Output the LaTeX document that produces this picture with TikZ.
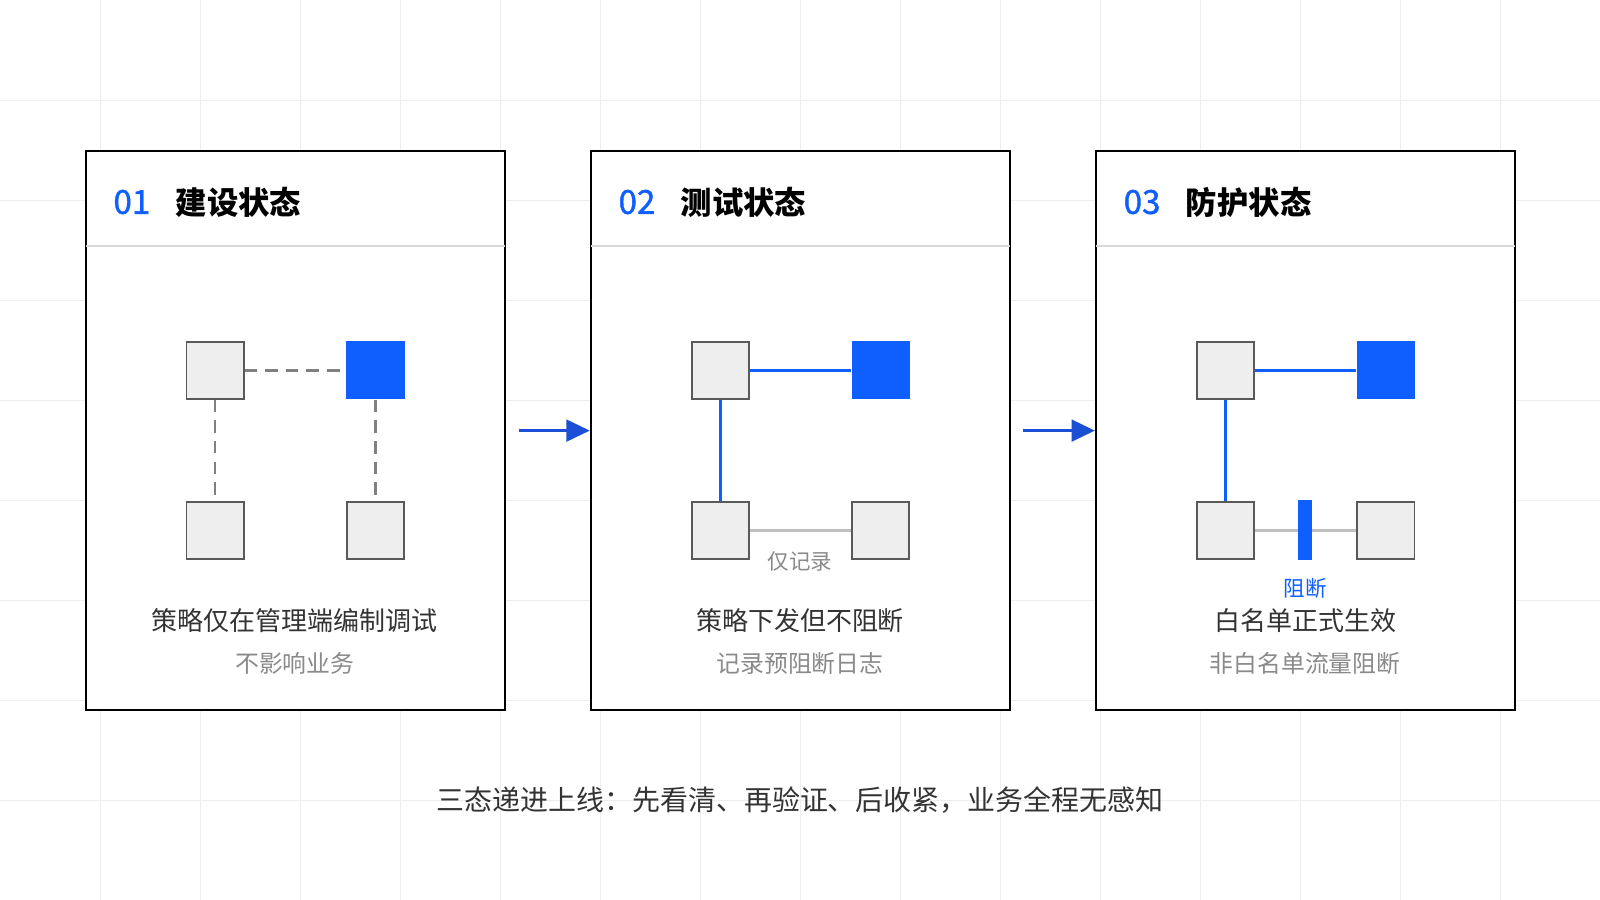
\documentclass[tikz,border=0pt]{standalone}
\usepackage{fontspec}
\setmainfont{Noto Sans CJK SC}
\newfontfamily\numfont{Noto Sans CJK SC}[FakeBold=1.2]
\usetikzlibrary{arrows.meta}
\definecolor{blueA}{HTML}{0F5EFF}
\definecolor{blueB}{HTML}{1A4FD6}
\definecolor{gridc}{HTML}{EDEDED}
\definecolor{boxg}{HTML}{EEEEEE}
\definecolor{txtA}{HTML}{333333}
\definecolor{txtB}{HTML}{8A8A8A}
\tikzstyle{panel} = [draw=black, line width=1.1pt, fill=white]
\tikzstyle{sq} = [draw=black!65, fill=boxg, line width=0.8pt, minimum size=1.12cm, inner sep=0pt]
\tikzstyle{sqb} = [fill=blueA, minimum size=1.14cm, inner sep=0pt]
\tikzstyle{num} = [text=blueA, font=\numfont\fontsize{18.5}{18}\selectfont, anchor=west]
\tikzstyle{ttl} = [text=black, font=\fontsize{17.5}{17}\selectfont\bfseries, anchor=west]
\tikzstyle{main} = [text=txtA, font=\fontsize{14.5}{15}\selectfont]
\tikzstyle{sub} = [text=txtB, font=\fontsize{13.3}{14}\selectfont]
\tikzstyle{draft} = [draw=black!50, line width=1.3pt, dash pattern=on 7pt off 4.5pt]
\tikzstyle{link} = [draw=blueA, line width=1.6pt]
\tikzstyle{weak} = [draw=black!25, line width=2pt]
\tikzstyle{stage} = [draw=blueB, line width=1.8pt, -{Triangle[length=13pt,width=12pt]}]
\begin{document}
\begin{tikzpicture}[x=0.02cm, y=-0.02cm]
\useasboundingbox (0,0) rectangle (1568,882);
\fill[white] (0,0) rectangle (1568,882);
\foreach \i in {1,...,15} \draw[gridc, line width=0.5pt] (98*\i,0) -- (98*\i,882);
\foreach \j in {1,...,8} \draw[gridc, line width=0.5pt] (0,98*\j) -- (1568,98*\j);
% panels
\foreach \x/\n/\t in {84/01/建设状态, 579/02/测试状态, 1074/03/防护状态} {
  \draw[panel] (\x,148) rectangle (\x+411,696);
  \draw[black!15, line width=1pt] (\x,241) -- (\x+411,241);
  \node[num] at (\x+21,198) {\n};
  \node[ttl] at (\x+82,198) {\t};
}
% panel 1
\node[sq] (a1) at (211,363) {};
\node[sqb] (b1) at (368,363) {};
\node[sq] (c1) at (211,520) {};
\node[sq] (d1) at (368,520) {};
\draw[draft] (a1) -- (b1);
\draw[draft] (a1) -- (c1);
\draw[draft] (b1) -- (d1);
\node[main] (m1) at (289,608) {策略仅在管理端编制调试};
\node[sub] (s1) at (289,650) {不影响业务};
% panel 2
\node[sq] (a2) at (706,363) {};
\node[sqb] (b2) at (863,363) {};
\node[sq] (c2) at (706,520) {};
\node[sq] (d2) at (863,520) {};
\draw[link] (a2) -- (b2);
\draw[link] (a2) -- (c2);
\draw[weak] (c2) -- (d2);
\node[sub, font=\fontsize{12}{12}\selectfont] (l2) at (784,550) {仅记录};
\node[main] (m2) at (784,608) {策略下发但不阻断};
\node[sub] (s2) at (784,650) {记录预阻断日志};
% panel 3
\node[sq] (a3) at (1201,363) {};
\node[sqb] (b3) at (1358,363) {};
\node[sq] (c3) at (1201,520) {};
\node[sq] (d3) at (1358,520) {};
\draw[link] (a3) -- (b3);
\draw[link] (a3) -- (c3);
\draw[weak] (c3) -- (d3);
\fill[blueA] (1272,490) rectangle (1286,549);
\node[text=blueA, font=\fontsize{12}{12}\selectfont] (l3) at (1279,577) {阻断};
\node[main] (m3) at (1279,608) {白名单正式生效};
\node[sub] (s3) at (1279,650) {非白名单流量阻断};
% stages
\coordinate (p1) at (509,422);
\coordinate (p2) at (578,422);
\coordinate (p3) at (1003,422);
\coordinate (p4) at (1073,422);
\draw[stage] (p1) -- (p2);
\draw[stage] (p3) -- (p4);
\node[main, font=\fontsize{15.6}{16}\selectfont] (cap) at (784,784) {三态递进上线：先看清、再验证、后收紧，业务全程无感知};
\end{tikzpicture}
\end{document}
